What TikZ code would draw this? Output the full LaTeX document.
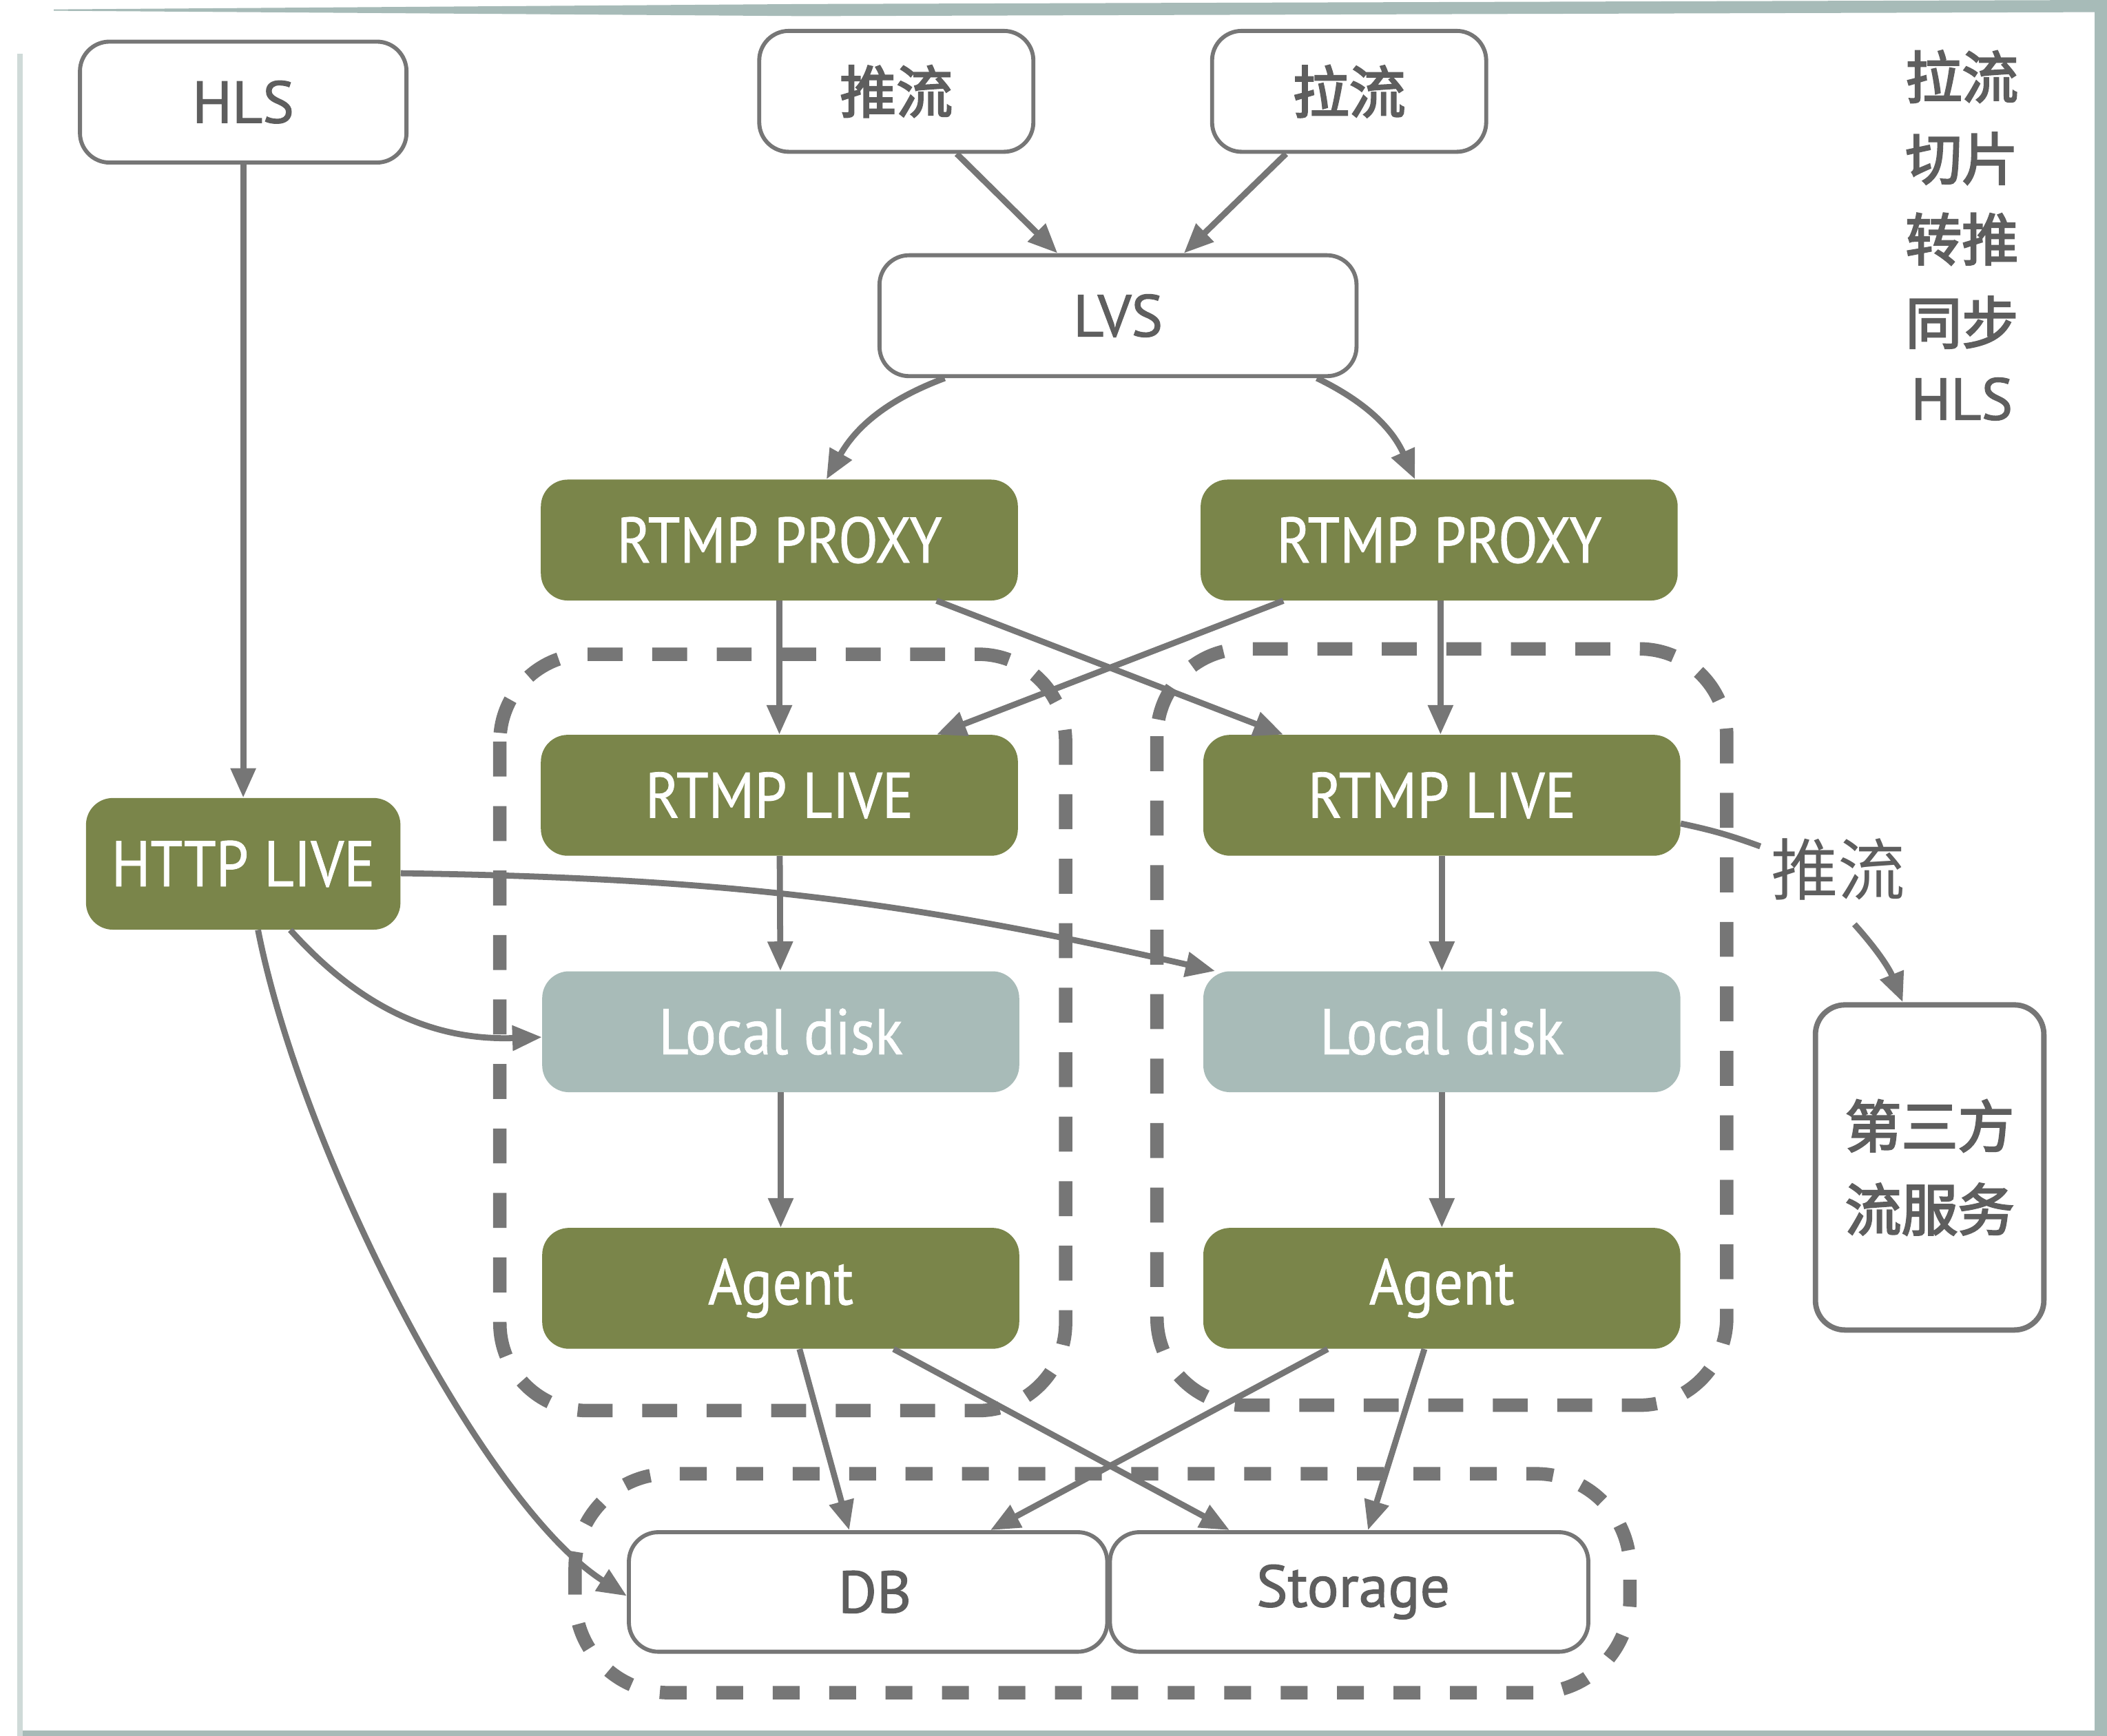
\documentclass[tikz,border=0pt]{standalone}
\usepackage{fontspec}
\setmainfont{PT Sans}[FakeBold=0.9]
\newfontfamily\latinb{PT Sans}[FakeBold=1.4]
\newfontfamily\cjk{Noto Sans CJK SC}
\newfontfamily\cjkm{Noto Sans CJK SC}[FakeBold=3]
\usetikzlibrary{arrows.meta,calc}
\definecolor{gr}{HTML}{7A854A}
\definecolor{ld}{HTML}{A8BBB8}
\definecolor{ln}{HTML}{767676}
\definecolor{tx}{HTML}{5E5E5E}
\definecolor{fr}{HTML}{A7BBB8}
\newcommand{\cond}[1]{\scalebox{0.9}[1]{#1}}
\begin{document}
\begin{tikzpicture}[x=1pt,y=-1pt,
 gbox/.style={rounded corners=20pt, fill=gr, text=white, minimum width=355pt, minimum height=90pt, inner sep=0pt, font=\fontsize{48}{56}\selectfont},
 dbox/.style={gbox, fill=ld},
 wbox/.style={rounded corners=22pt, draw=ln, line width=3pt, fill=white, text=tx, inner sep=0pt, font=\latinb\fontsize{44}{52}\selectfont},
 cbox/.style={wbox, font=\cjkm\fontsize{42}{62}\selectfont},
 side/.style={text=tx, inner sep=0pt, font=\cjkm\fontsize{42}{50}\selectfont},
 conn/.style={draw=ln, line width=4.5pt},
 arr/.style={conn, -{Triangle[length=22pt,width=18pt]}},
 grp/.style={draw=ln, line width=10pt, dash pattern=on 26pt off 22pt, rounded corners=65pt},
]
\useasboundingbox (0,0) rectangle (1568,1292);
\fill[white] (0,0) rectangle (1568,1292);
% frame
\fill[fr] (40,7) -- (600,3) -- (1568,0) -- (1568,9) -- (600,12) -- (40,8) -- cycle;
\fill[fr] (1559,0) rectangle (1568,1292);
\fill[fr] (14,1288) rectangle (1568,1292);
\fill[fr!55] (13,40) rectangle (17,1292);
% groups
\draw[grp] (372,487) rectangle (793,1050);
\draw[grp] (861,483) rectangle (1285,1046);
\draw[grp, dash pattern=on 20pt off 22pt, rounded corners=70pt] (428,1097) rectangle (1213,1260);
% nodes
\node[wbox, minimum width=243pt, minimum height=90pt] (hls) at (181,76) {HLS};
\node[cbox, minimum width=204pt, minimum height=90pt] (push) at (667,68) {推流};
\node[cbox, minimum width=204pt, minimum height=90pt] (pull) at (1004,68) {拉流};
\node[wbox, minimum width=355pt, minimum height=90pt] (lvs) at (832,235) {LVS};
\node[gbox] (proxyL) at (580,402) {\cond{RTMP PROXY}};
\node[gbox] (proxyR) at (1071,402) {\cond{RTMP PROXY}};
\node[gbox] (liveL) at (580,592) {\cond{RTMP LIVE}};
\node[gbox] (liveR) at (1073,592) {\cond{RTMP LIVE}};
\node[gbox, minimum width=234pt, minimum height=98pt] (http) at (181,643) {\cond{HTTP LIVE}};
\node[dbox] (diskL) at (581,768) {\cond{Local disk}};
\node[dbox] (diskR) at (1073,768) {\cond{Local disk}};
\node[gbox] (agentL) at (581,959) {\cond{Agent}};
\node[gbox] (agentR) at (1073,959) {\cond{Agent}};
\node[wbox, minimum width=356pt, minimum height=89pt] (db) at (646,1185) {\hspace{10pt}DB};
\node[wbox, minimum width=356pt, minimum height=89pt] (storage) at (1004,1185) {\hspace{6pt}Storage};
\node[cbox, line width=4pt, minimum width=170pt, minimum height=242pt, align=center] (third) at (1436,869) {第三方\\流服务};
\node[side] (t1) at (1460,57) {拉流};
\node[side] (t2) at (1460,118) {切片};
\node[side] (t3) at (1460,178) {转推};
\node[side] (t4) at (1460,240) {同步};
\node[side, font=\latinb\fontsize{44}{52}\selectfont] (t5) at (1460,297) {HLS};
\node[text=tx, inner sep=0pt, font=\cjk\fontsize{50}{56}\selectfont] (lbl) at (1368,647) {推流};
\coordinate (c1) at (1310,630);
\coordinate (c2) at (1380,688);
% connectors
\draw[arr] (hls) -- (http);
\draw[arr] ([xshift=45pt]push.south) -- ([xshift=-45pt]lvs.north);
\draw[arr] ([xshift=-47pt]pull.south) -- ([xshift=49pt]lvs.north);
\draw[arr] ([xshift=-129pt]lvs.south) to[bend right=20] ([xshift=35pt]proxyL.north);
\draw[arr] ([xshift=148pt]lvs.south) to[bend left=20] ([xshift=-18pt]proxyR.north);
\draw[arr] (proxyL) -- (liveL);
\draw[arr] ([xshift=1pt]proxyR.south) -- ([xshift=-1pt]liveR.north);
\draw[arr] ([xshift=117pt]proxyL.south) -- ([xshift=-118pt]liveR.north);
\draw[arr] ([xshift=-116pt]proxyR.south) -- ([xshift=117pt]liveL.north);
\draw[arr] (liveL) -- (diskL);
\draw[arr] (liveR) -- (diskR);
\draw[arr] (diskL) -- (agentL);
\draw[arr] (diskR) -- (agentR);
\draw[arr] ([yshift=-7pt]http.east) to[bend left=6] ([xshift=9pt]diskR.north west);
\draw[arr] ([xshift=35pt]http.south) to[bend right=25] ([yshift=-4pt]diskL.west);
\draw[arr] ([xshift=11pt]http.south) .. controls (225,860) and (360,1120) .. ([yshift=-3pt]db.west);
\draw[arr] ([xshift=14pt]agentL.south) -- ([xshift=-14pt]db.north);
\draw[arr] ([xshift=84pt]agentL.south) -- ([xshift=-89pt]storage.north);
\draw[arr] ([xshift=-85pt]agentR.south) -- ([xshift=91pt]db.north);
\draw[arr] ([xshift=-13pt]agentR.south) -- ([xshift=14pt]storage.north);
\draw[conn] ([yshift=-21pt]liveR.east) to[bend left=4] (c1);
\draw[arr] (c2) to[bend left=10] ([xshift=-20pt]third.north);
\end{tikzpicture}
\end{document}
